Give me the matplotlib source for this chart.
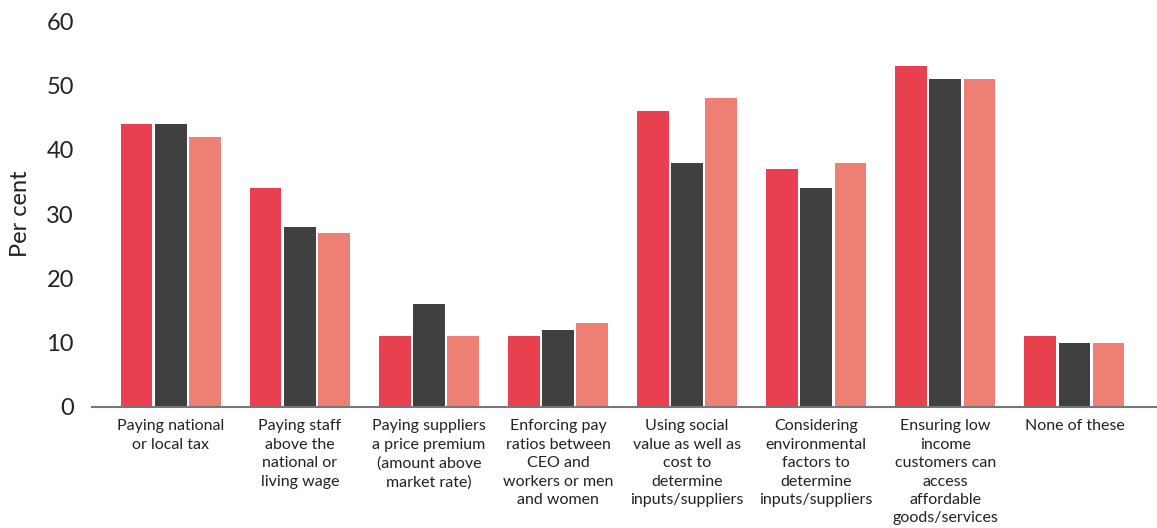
import matplotlib.pyplot as plt
import numpy as np

plt.rcParams['font.family'] = ['Lato', 'DejaVu Sans']

categories = [
    'Paying national\nor local tax',
    'Paying staff\nabove the\nnational or\nliving wage',
    'Paying suppliers\na price premium\n(amount above\nmarket rate)',
    'Enforcing pay\nratios between\nCEO and\nworkers or men\nand women',
    'Using social\nvalue as well as\ncost to\ndetermine\ninputs/suppliers',
    'Considering\nenvironmental\nfactors to\ndetermine\ninputs/suppliers',
    'Ensuring low\nincome\ncustomers can\naccess\naffordable\ngoods/services',
    'None of these',
]
series_a = [44, 34, 11, 11, 46, 37, 53, 11]
series_b = [44, 28, 16, 12, 38, 34, 51, 10]
series_c = [42, 27, 11, 13, 48, 38, 51, 10]
y_ticks = [0, 10, 20, 30, 40, 50, 60]

colors = ['#E8404E', '#404040', '#EE7F74']

fig = plt.figure(figsize=(11.57, 5.28), dpi=100)
ax = fig.add_axes([0.0795, 0.2292, 0.9205, 0.7307])

x = np.arange(len(categories))
w = 0.245
step = 0.265
for i, (vals, c) in enumerate(zip([series_a, series_b, series_c], colors)):
    ax.bar(x + (i - 1) * step, vals, width=w, color=c, zorder=2)

ax.set_xlim(-0.61, 7.64)
ax.set_ylim(0, 60)
ax.set_yticks(y_ticks)
ax.tick_params(axis='y', length=0, pad=13, labelsize=17, colors='#222222')
ax.set_xticks(x)
ax.set_xticklabels(categories, fontsize=11.5, color='#222222', linespacing=1.4)
ax.tick_params(axis='x', length=0, pad=9)
ax.set_ylabel('Per cent', fontsize=17, color='#222222', labelpad=11)

for s in ['top', 'right', 'left']:
    ax.spines[s].set_visible(False)
ax.spines['bottom'].set_color('#777777')
ax.spines['bottom'].set_linewidth(1.5)

plt.savefig('out.png', dpi=100)
